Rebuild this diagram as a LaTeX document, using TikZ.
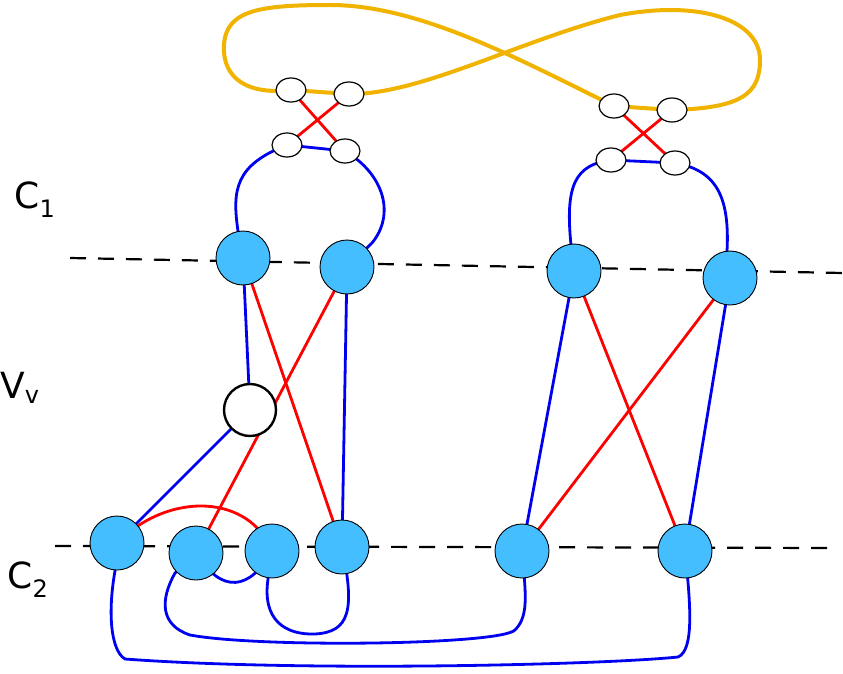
\documentclass[tikz,border=0pt]{standalone}
\usepackage{fontspec}
\setmainfont{DejaVu Sans}
\usetikzlibrary{shapes.geometric}
\begin{document}
\begin{tikzpicture}[x=1pt,y=-1pt,
 big/.style={circle,draw=black,fill={rgb,255:red,68;green,190;blue,255},minimum size=54pt,inner sep=0pt,line width=0.9pt},
 vv/.style={circle,draw=black,fill=white,minimum size=52pt,inner sep=0pt,line width=2.4pt},
 sm/.style={ellipse,draw=black,fill=white,minimum width=30pt,minimum height=24pt,inner sep=0pt,line width=1.2pt},
 bl/.style={draw={rgb,255:red,0;green,0;blue,240},line width=2.8pt},
 rd/.style={draw={rgb,255:red,255;green,0;blue,0},line width=2.8pt},
 yl/.style={draw={rgb,255:red,240;green,180;blue,0},line width=4pt},
 dsh/.style={draw=black,line width=2.2pt,dash pattern=on 16pt off 12pt},
 lab/.style={font=\fontsize{36}{36}\selectfont,anchor=center}]
\useasboundingbox (0,0) rectangle (843,674);
\draw[dsh] (70,258) -- (843,273);
\draw[dsh] (55,546) -- (830,548);
\node[lab] (c1) at (35,200) {C\textsubscript{\fontsize{24}{24}\selectfont 1}};
\node[lab] (vl) at (20,388) {V\textsubscript{\fontsize{24}{24}\selectfont v}};
\node[lab] (c2) at (28,580) {C\textsubscript{\fontsize{24}{24}\selectfont 2}};
% coordinates
\coordinate (A1) at (243,258); \coordinate (A2) at (347,267);
\coordinate (A3) at (574,271); \coordinate (A4) at (730,278);
\coordinate (V) at (250,410);
\coordinate (B1) at (117,543); \coordinate (B2) at (196,553); \coordinate (B3) at (272,551);
\coordinate (B4) at (342,547); \coordinate (B5) at (522,551); \coordinate (B6) at (685,551);
\coordinate (E1) at (291,90); \coordinate (E2) at (349,94); \coordinate (E3) at (287,145); \coordinate (E4) at (345,151);
\coordinate (F1) at (614,106); \coordinate (F2) at (672,110); \coordinate (F3) at (611,160); \coordinate (F4) at (675,163);
% yellow
\draw[yl] (E1) -- (E2) (F1) -- (F2);
\draw[yl] (E1) .. controls (250,95) and (222,80) .. (224,45) .. controls (226,10) and (260,5) .. (330,5)
 .. controls (420,5) and (520,60) .. (F1);
\draw[yl] (E2) .. controls (420,95) and (520,40) .. (620,15) .. controls (700,0) and (760,20) .. (760,60)
 .. controls (760,95) and (740,108) .. (F2);
% top blue
\draw[bl] (E3) -- (E4) (F3) -- (F4);
\draw[bl] (A1) -- (238,231) .. controls (232,190) and (235,165) .. (E3);
\draw[bl] (E4) .. controls (385,175) and (395,215) .. (372,243) -- (A2);
\draw[bl] (A3) -- (571,245) .. controls (565,185) and (575,165) .. (F3);
\draw[bl] (F4) .. controls (715,170) and (730,195) .. (727,251) -- (A4);
% red X
\draw[rd] (E1) -- (E4) (E2) -- (E3) (F1) -- (F4) (F2) -- (F3);
% middle edges
\draw[bl] (A1) -- (V);
\draw[bl] (A2) -- (B4);
\draw[bl] (V) -- (B1);
\draw[bl] (A3) -- (B5);
\draw[bl] (A4) -- (B6);
\draw[rd] (A1) -- (B4);
\draw[rd] (A2) -- (B2);
\draw[rd] (A3) -- (B6);
\draw[rd] (A4) -- (B5);
\draw[rd] (B1) .. controls (170,490) and (250,495) .. (B3);
% bottom loops
\draw[bl] (B2) .. controls (222,595) and (250,590) .. (B3);
\draw[bl] (B2) -- (175,573) .. controls (160,600) and (160,625) .. (190,635)
 .. controls (260,648) and (500,645) .. (515,630) .. controls (530,615) and (525,590) .. (B5);
\draw[bl] (B3) -- (268,579) .. controls (262,620) and (285,635) .. (315,634) .. controls (350,632) and (355,610) .. (B4);
\draw[bl] (B1) -- (115,571) .. controls (108,610) and (110,650) .. (125,659)
 .. controls (300,672) and (600,665) .. (678,657) .. controls (695,650) and (690,600) .. (B6);
% nodes
\node[vv] (v) at (V) {};
\foreach \n in {A1,A2,A3,A4,B1,B2,B3,B4,B5,B6} \node[big] (n\n) at (\n) {};
\foreach \n in {E1,E2,E3,E4,F1,F2,F3,F4} \node[sm] (s\n) at (\n) {};
\end{tikzpicture}
\end{document}
